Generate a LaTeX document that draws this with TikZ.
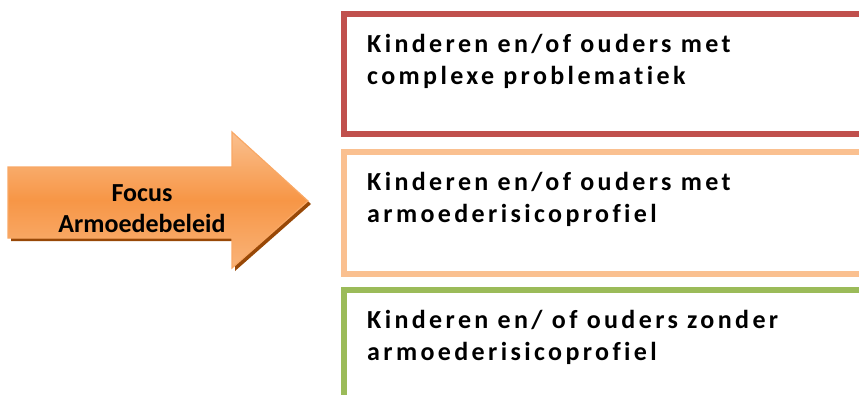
\documentclass[tikz,border=0pt]{standalone}
\usepackage{fontspec}
\newfontfamily\boxfont[LetterSpace=13,Ligatures=NoCommon]{Carlito}
\newfontfamily\arrowfont{Carlito}
\definecolor{redbox}{HTML}{C0504D}
\definecolor{orangebox}{HTML}{FAC090}
\definecolor{greenbox}{HTML}{9BBB59}
\definecolor{arrowmain}{HTML}{F79646}
\definecolor{arrowlight}{HTML}{FAC08F}
\definecolor{arrowedge}{HTML}{F9A865}
\definecolor{arrowshadow}{HTML}{984807}
\tikzset{
  framebox/.style={line width=6pt},
  boxtext/.style={anchor=base west, inner sep=0pt, align=left,
    font=\boxfont\bfseries\fontsize{26}{31.5}\selectfont},
  arrowtext/.style={inner sep=0pt, align=center,
    font=\arrowfont\bfseries\fontsize{26}{31}\selectfont}
}
\begin{document}
\begin{tikzpicture}[x=1pt,y=-1pt]
\useasboundingbox (0,0) rectangle (859,394);
\clip (0,0) rectangle (859,394);
% arrow shadow
\fill[arrowshadow] (11,170) -- (235,170) -- (235,135) -- (311,204) -- (235,271) -- (235,241) -- (11,241) -- cycle;
% arrow
\shade[top color=arrowlight, bottom color=arrowlight!70!arrowmain, middle color=arrowmain]
  (8,167) -- (232,167) -- (232,132) -- (308,201) -- (232,268) -- (232,238) -- (8,238) -- cycle;
\draw[arrowedge, line width=1.2pt, line join=miter]
  (8,167) -- (232,167) -- (232,132) -- (308,201) -- (232,268) -- (232,238) -- (8,238) -- cycle;
\node[arrowtext] (focus) at (142,209) {Focus\\Armoedebeleid};
% boxes
\draw[framebox, redbox] (870,14) -- (344,14) -- (344,134) -- (870,134);
\draw[framebox, orangebox] (870,151.5) -- (344,151.5) -- (344,273.5) -- (870,273.5);
\draw[framebox, greenbox] (870,289.5) -- (344,289.5) -- (344,410) -- (870,410);
\node[boxtext] (t1) at (367,84) {Kinderen en/of ouders met\\complexe problematiek};
\node[boxtext] (t2) at (367,222) {Kinderen en/of ouders met\\armoederisicoprofiel};
\node[boxtext] (t3) at (367,360) {Kinderen en/ of ouders zonder\\armoederisicoprofiel};
\end{tikzpicture}
\end{document}
